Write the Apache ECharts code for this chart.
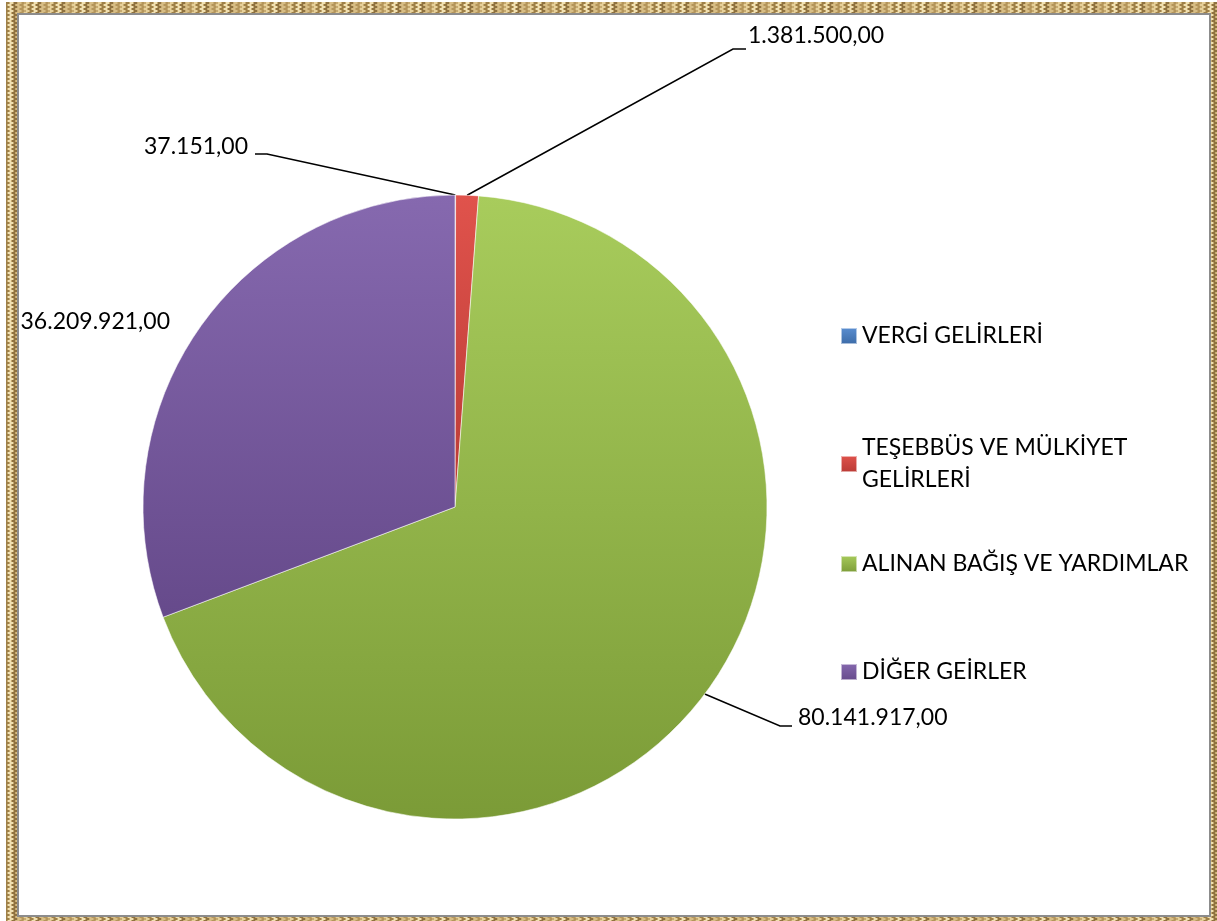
<!DOCTYPE html>
<html>
<head>
<meta charset="utf-8">
<script src="https://cdn.jsdelivr.net/npm/echarts@6/dist/echarts.min.js"></script>
<style>
html,body{margin:0;padding:0;background:#fff;}
#c{width:1217px;height:921px;}
</style>
</head>
<body>
<div id="c"></div>
<script>
// ---- data ----
const categories = ['VERGİ GELİRLERİ', 'TEŞEBBÜS VE MÜLKİYET GELİRLERİ', 'ALINAN BAĞIŞ VE YARDIMLAR', 'DİĞER GEİRLER'];
const legendTexts = ['VERGİ GELİRLERİ', 'TEŞEBBÜS VE MÜLKİYET\nGELİRLERİ', 'ALINAN BAĞIŞ VE YARDIMLAR', 'DİĞER GEİRLER'];
const values = [37151, 1381500, 80141917, 36209921];

// ---- styles ----
const sliceColors = [
  ['#5b8fd2', '#3b6aa6'],
  ['#e0534c', '#b93a35'],
  ['#a8cc5c', '#7b9b37'],
  ['#8669af', '#664a8b']
];

function fmtTR(v) {
  const s = Math.round(v).toString().replace(/\B(?=(\d{3})+(?!\d))/g, '.');
  return s + ',00';
}

// frame texture (deterministic)
const tex = document.createElement('canvas');
tex.width = 24; tex.height = 24;
(function () {
  const g = tex.getContext('2d');
  g.fillStyle = '#c6a96f'; g.fillRect(0, 0, 24, 24);
  const shades = ['#e6d09a', '#9e8048', '#f0e0b2', '#8f7240', '#d7bd85', '#b4955b'];
  for (let y = 0; y < 24; y += 2) {
    for (let x = 0; x < 24; x += 4) {
      g.fillStyle = shades[(x / 4 + y * 3) % shades.length];
      g.fillRect(x + (y % 4 === 0 ? 0 : 2), y, 3, 2);
    }
  }
})();

const labelPos = [
  { x: 248, y: 147, align: 'right', line: [[267, 154], [255, 154]] },
  { x: 748, y: 36, align: 'left', line: [[733, 49], [746, 49]] },
  { x: 798, y: 718, align: 'left', line: [[780, 726], [792, 726]] },
  { x: 170, y: 322, align: 'right', line: null }
];

const legendTops = [320, 416, 548, 656];

const chart = echarts.init(document.getElementById('c'), null, { renderer: 'canvas' });

const data = categories.map((name, i) => ({
  name: name,
  value: values[i],
  itemStyle: {
    color: {
      type: 'linear', x: 0, y: 0, x2: 0, y2: 1,
      colorStops: [{ offset: 0, color: sliceColors[i][0] }, { offset: 1, color: sliceColors[i][1] }]
    }
  },
  labelLine: { show: labelPos[i].line !== null }
}));

const legends = categories.map((name, i) => ({
  data: [name],
  orient: 'vertical',
  left: 840,
  top: legendTops[i],
  padding: 0,
  icon: 'rect',
  itemWidth: 16,
  itemHeight: 16,
  selectedMode: false,
  formatter: () => legendTexts[i],
  textStyle: {
    fontFamily: 'Lato',
    fontSize: 23,
    color: '#000',
    lineHeight: 32,
    padding: i === 1 ? [32, 0, 0, 0] : 0
  }
}));

chart.setOption({
  animation: false,
  backgroundColor: 'transparent',
  graphic: [
    { type: 'rect', z: 0, shape: { x: 6, y: 2, width: 1211, height: 919 }, style: { fill: { image: tex, repeat: 'repeat' } } },
    { type: 'rect', z: 1, shape: { x: 18, y: 14, width: 1192, height: 902 }, style: { fill: '#ffffff', stroke: '#8c8c8c', lineWidth: 2 } }
  ],
  legend: legends,
  series: [{
    type: 'pie',
    center: [455, 507],
    radius: 312,
    startAngle: 90,
    clockwise: true,
    avoidLabelOverlap: false,
    data: data,
    itemStyle: { borderColor: 'rgba(255,255,255,0.55)', borderWidth: 1 },
    emphasis: { disabled: true },
    label: {
      show: true,
      position: 'outside',
      fontFamily: 'Lato',
      fontSize: 23,
      color: '#000',
      formatter: p => fmtTR(p.value)
    },
    labelLine: { show: true, lineStyle: { color: '#000', width: 1.5 } },
    labelLayout: function (p) {
      const lp = labelPos[p.dataIndex];
      const out = { x: lp.x, y: lp.y, align: lp.align, verticalAlign: 'middle' };
      if (lp.line && p.labelLinePoints) {
        out.labelLinePoints = [p.labelLinePoints[0], lp.line[0], lp.line[1]];
      }
      return out;
    }
  }]
});
</script>
</body>
</html>
